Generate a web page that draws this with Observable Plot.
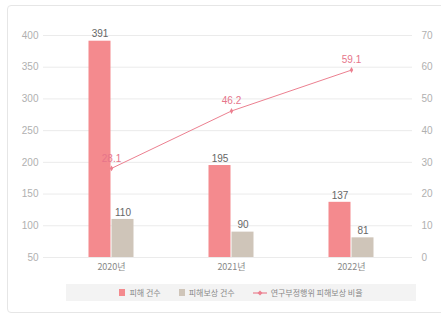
<!DOCTYPE html>
<html><head><meta charset="utf-8">
<script src="https://cdn.jsdelivr.net/npm/d3@7"></script>
<script src="https://cdn.jsdelivr.net/npm/@observablehq/plot@0.6"></script>
<style>
body{margin:0;background:#fff;}
#wrap{position:relative;width:441px;height:319px;overflow:hidden;font-family:"Liberation Sans Narrow","Liberation Sans",sans-serif;}
#frame{position:absolute;left:7px;top:5px;width:440px;height:308px;border:1px solid #e6e6e6;border-radius:4px;box-sizing:border-box;}
#chart{position:absolute;left:0;top:0;}
#legend{position:absolute;left:66px;top:284px;width:350px;height:17px;background:#f3f3f3;display:flex;align-items:center;justify-content:center;gap:18px;font-size:8px;color:#888;font-family:"Noto Sans CJK KR",sans-serif;}
.it{display:flex;align-items:center;gap:4px;}
.sw{width:6px;height:7px;display:inline-block;}
</style></head>
<body><div id="wrap"><div id="frame"></div><div id="chart"></div>
<div id="legend"></div></div>
<script>
const years = ["2020년","2021년","2022년"];
const damageCount = [391,195,137];
const compCount = [110,90,81];
const compRatio = [28.1,46.2,59.1];
const leftTicks = [50,100,150,200,250,300,350,400];
const rightTicks = [0,10,20,30,40,50,60,70];
const seriesNames = ["피해 건수","피해보상 건수","연구부정행위 피해보상 비율"];
const colors = ["#f48a8e","#cfc5b9","#ec8090"];

const toLeft = v => 50 + v * (350/70);
const bars = years.flatMap((y,i)=>[
  {year:y, s:0, v:damageCount[i]},
  {year:y, s:1, v:compCount[i]}
]);
const line = years.map((y,i)=>({year:y, r:compRatio[i], v:toLeft(compRatio[i])}));

const plot = Plot.plot({
  width:441, height:280,
  marginTop:35, marginBottom:23, marginLeft:50, marginRight:29,
  x:{domain:years, padding:0, axis:null},
  y:{domain:[50,400], axis:null},
  style:{fontFamily:'"Liberation Sans Narrow","Liberation Sans",sans-serif', fontSize:"10px"},
  marks:[
    Plot.ruleY(leftTicks,{stroke:"#ebebeb", strokeWidth:1, insetLeft:-7}),
    Plot.axisY({ticks:leftTicks, label:null, tickSize:0, tickPadding:12, color:"#b0b0b0", fontSize:10}),
    Plot.axisY({anchor:"right", label:null, ticks:rightTicks.map(toLeft), tickFormat:(d)=>String(Math.round((d-50)/5)), tickSize:0, tickPadding:9, color:"#b0b0b0", fontSize:10}),
    Plot.axisX({label:null, tickSize:0, tickPadding:6, color:"#888", fontSize:9, fontFamily:'"Noto Sans CJK KR",sans-serif'}),
    Plot.barY(bars.filter(d=>d.s===0),{x:"year", y1:50, y2:"v", fill:colors[0], insetLeft:37.5, insetRight:60.5}),
    Plot.barY(bars.filter(d=>d.s===1),{x:"year", y1:50, y2:"v", fill:colors[1], insetLeft:60.5, insetRight:37.5}),
    Plot.text(bars.filter(d=>d.s===0),{x:"year", y:"v", text:d=>String(d.v), dx:-11.5, dy:-7, fill:"#666", fontSize:10}),
    Plot.text(bars.filter(d=>d.s===1),{x:"year", y:"v", text:d=>String(d.v), dx:11.5, dy:-7, fill:"#666", fontSize:10}),
    Plot.line(line,{x:"year", y:"v", stroke:colors[2], strokeWidth:1}),
    Plot.dot(line,{x:"year", y:"v", fill:colors[2], r:1.8, symbol:"diamond"}),
    Plot.text(line,{x:"year", y:"v", text:d=>d.r.toFixed(1), dy:-10, fill:"#e6758a", fontSize:10})
  ]
});
document.getElementById("chart").appendChild(plot);

const lg = document.getElementById("legend");
lg.innerHTML = `
<span class="it"><span class="sw" style="background:${colors[0]}"></span>${seriesNames[0]}</span>
<span class="it"><span class="sw" style="background:${colors[1]}"></span>${seriesNames[1]}</span>
<span class="it"><svg width="14" height="8"><line x1="0" y1="4" x2="14" y2="4" stroke="${colors[2]}" stroke-width="1.2"/><path d="M7 1.5 L9.5 4 L7 6.5 L4.5 4Z" fill="${colors[2]}"/></svg>${seriesNames[2]}</span>`;
</script></body></html>
